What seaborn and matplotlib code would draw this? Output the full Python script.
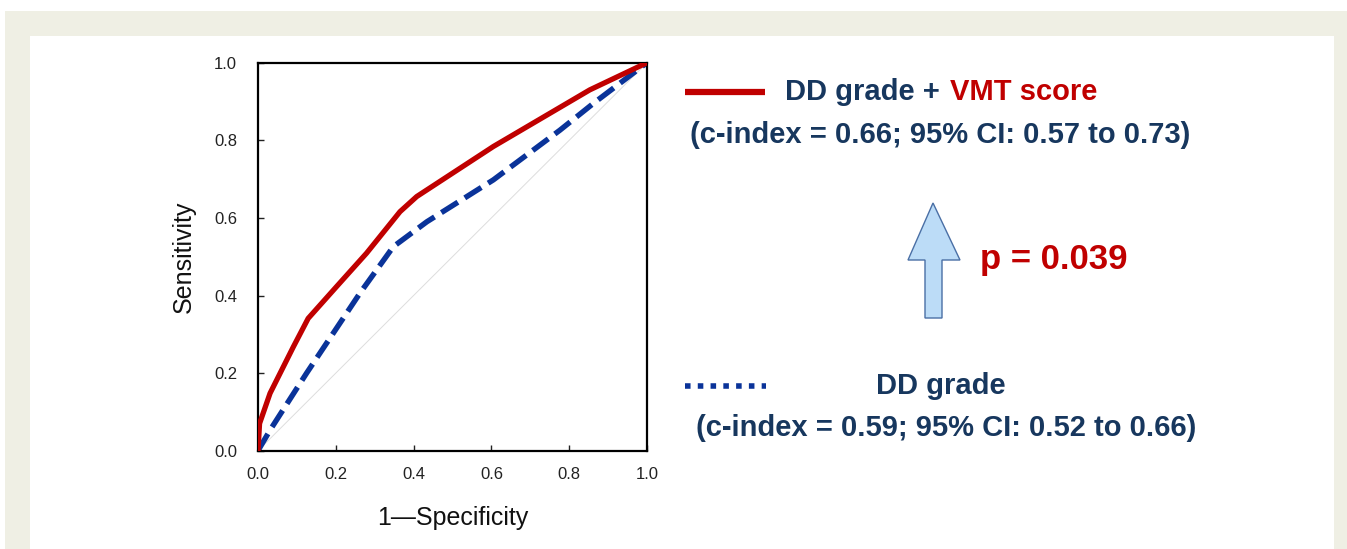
import numpy as np
import pandas as pd
import matplotlib
matplotlib.use("Agg")
import matplotlib.pyplot as plt
import seaborn as sns
from matplotlib.patches import Rectangle, Polygon
from matplotlib.lines import Line2D

# ROC points
fpr_combined = [0.0, 0.004, 0.031, 0.091, 0.129, 0.202, 0.279, 0.365, 0.408, 0.605, 0.853, 1.0]
tpr_combined = [0.0, 0.07, 0.148, 0.268, 0.341, 0.423, 0.509, 0.616, 0.655, 0.784, 0.93, 1.0]
fpr_dd = [0.0, 0.031, 0.125, 0.262, 0.348, 0.434, 0.605, 0.776, 0.862, 1.0]
tpr_dd = [0.0, 0.053, 0.2, 0.406, 0.526, 0.59, 0.698, 0.826, 0.895, 1.0]
ticks = [0.0, 0.2, 0.4, 0.6, 0.8, 1.0]
tick_labels = ["0.0", "0.2", "0.4", "0.6", "0.8", "1.0"]

df_comb = pd.DataFrame({"fpr": fpr_combined, "tpr": tpr_combined})
df_dd = pd.DataFrame({"fpr": fpr_dd, "tpr": tpr_dd})

sns.set_theme(style="ticks")
plt.rcParams["font.family"] = ["Liberation Sans", "DejaVu Sans"]

W, H = 1347, 549
NAVY = "#17375e"
RED = "#c00000"
BLUE = "#0a3399"


def fx(x):
    return x / W


def fy(y):
    return 1 - y / H


fig = plt.figure(figsize=(W / 100, H / 100), dpi=100)
fig.patch.set_facecolor("white")

# beige frame with white panel
fig.add_artist(Rectangle((fx(5), 0), fx(1347) - fx(5), fy(11), transform=fig.transFigure,
                         facecolor="#efefe4", edgecolor="none", zorder=-10))
fig.add_artist(Rectangle((fx(30), 0), fx(1334) - fx(30), fy(36), transform=fig.transFigure,
                         facecolor="white", edgecolor="none", zorder=-9))

ax = fig.add_axes([fx(258), fy(450.7), fx(647) - fx(258), fy(62.7) - fy(450.7)])
ax.set_facecolor("white")

ax.plot([0, 1], [0, 1], color="#dddddd", lw=0.7, zorder=1)
sns.lineplot(data=df_dd, x="fpr", y="tpr", sort=False, estimator=None, ax=ax,
             color=BLUE, lw=3.9, dashes=False, zorder=2)
ax.lines[-1].set_dashes((3.6, 1.5))
ax.lines[-1].set_dash_capstyle("butt")
sns.lineplot(data=df_comb, x="fpr", y="tpr", sort=False, estimator=None, ax=ax,
             color=RED, lw=3.8, zorder=3)

ax.set_xlim(0, 1)
ax.set_ylim(0, 1)
ax.set_xticks(ticks)
ax.set_xticklabels(tick_labels)
ax.set_yticks(ticks)
ax.set_yticklabels(tick_labels)
ax.tick_params(direction="in", length=4, width=1, labelsize=12, colors="#222222")
ax.tick_params(axis="x", pad=12)
ax.tick_params(axis="y", pad=15)
for s in ax.spines.values():
    s.set_visible(True)
    s.set_linewidth(1.6)
    s.set_color("black")
ax.set_xlabel("1\u2014Specificity", fontsize=18, labelpad=17, color="#111111")
ax.set_ylabel("Sensitivity", fontsize=18, labelpad=13, color="#111111")

# legend samples and labels
fig.add_artist(Line2D([fx(685), fx(765)], [fy(92), fy(92)], transform=fig.transFigure,
                      color=RED, lw=4.5, solid_capstyle="butt"))
fig.add_artist(Line2D([fx(685), fx(766)], [fy(386), fy(386)], transform=fig.transFigure,
                      color=BLUE, lw=4.0, dashes=(1, 1.3), dash_capstyle="butt"))

fig.text(fx(785), fy(92), "DD grade +", fontsize=21, fontweight="bold", color=NAVY,
         ha="left", va="center")
fig.text(fx(1097), fy(92), "VMT score", fontsize=21, fontweight="bold", color=RED,
         ha="right", va="center")
fig.text(fx(940), fy(135), "(c-index = 0.66; 95% CI: 0.57 to 0.73)", fontsize=21,
         fontweight="bold", color=NAVY, ha="center", va="center")
fig.text(fx(941), fy(386), "DD grade", fontsize=21, fontweight="bold", color=NAVY,
         ha="center", va="center")
fig.text(fx(946.5), fy(428), "(c-index = 0.59; 95% CI: 0.52 to 0.66)", fontsize=21,
         fontweight="bold", color=NAVY, ha="center", va="center")

# arrow
arrow_px = [(933, 203), (960, 260), (942, 260), (942, 318), (925, 318), (925, 260), (908, 260)]
fig.add_artist(Polygon([(fx(x), fy(y)) for x, y in arrow_px], closed=True,
                       transform=fig.transFigure, facecolor="#bcdcf7",
                       edgecolor="#4a6fa5", lw=1.0))
fig.text(fx(1053.5), fy(260), "p = 0.039", fontsize=25, fontweight="bold", color=RED,
         ha="center", va="center")

fig.savefig("out.png", dpi=100)
